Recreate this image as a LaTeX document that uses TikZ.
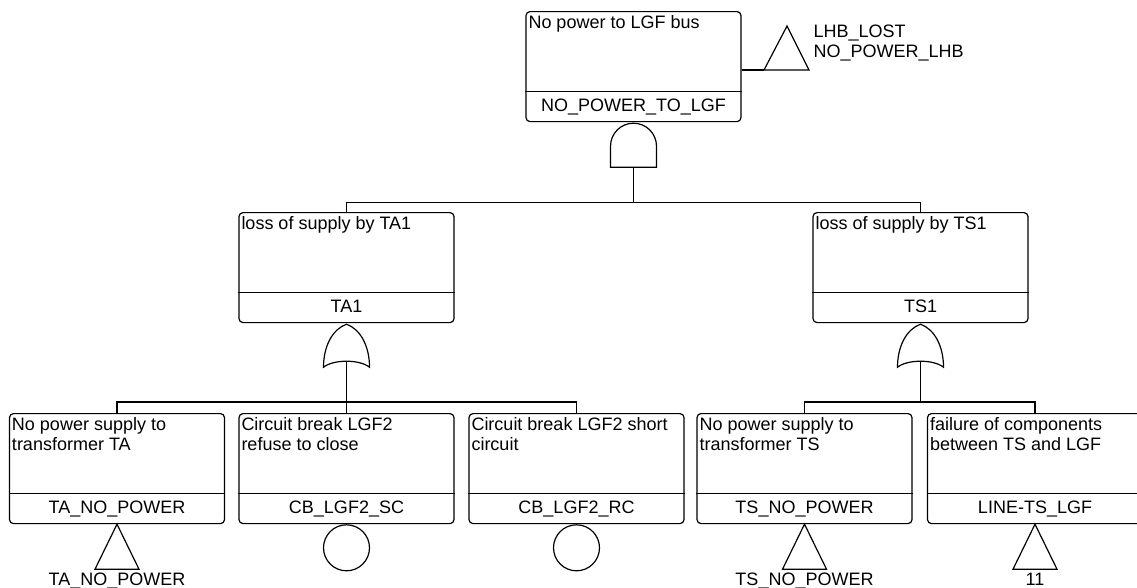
\documentclass[tikz,border=0pt]{standalone}
\usepackage{fontspec}
\setmainfont{Liberation Sans}
\tikzset{
  ev/.style={draw, rounded corners=4pt, minimum width=215pt, minimum height=110pt, inner sep=0pt, anchor=north},
  ttl/.style={anchor=north west, align=left, inner sep=0pt},
  eid/.style={anchor=base, inner sep=0pt},
  gate/.style={draw, fill=white},
}
\newcommand\evt[5]{%
  \node[ev] (#1) at (#2,#3) {};
  \draw ([yshift=31pt]#1.south west) -- ([yshift=31pt]#1.south east);
  \node[ttl] (#1-t) at ([shift={(2.5pt,-4pt)}]#1.north west) {#4};
  \node[eid] (#1-i) at ([yshift=11pt]#1.south) {#5};
}
\newcommand\orgate[2]{% name, box
  \path (#2.south) ++(0,1) coordinate (#1-top);
  \draw[gate] (#1-top) ++(-23,43) .. controls +(0,-21) and +(-14,5) .. (#1-top)
     .. controls +(14,5) and +(0,-21) .. ++(23,43)
     .. controls +(-10,-8) and +(10,-8) .. ++(-46,0) -- cycle;
  \path (#1-top) ++(0,37) coordinate (#1-out);
}
\newcommand\trin[2]{% name, box
  \path (#2.south) coordinate (#1-top);
  \draw (#1-top) -- ++(22,45) -- ++(-44,0) -- cycle;
}
\begin{document}
\begin{tikzpicture}[x=1pt,y=-1pt, line width=1.2pt, font=\fontsize{18}{20}\selectfont]
\useasboundingbox (0,0) rectangle (1137,587);

% top event
\evt{top}{633.5}{11}{No power to LGF bus}{NO\_POWER\_TO\_LGF}
% transfer-in triangle beside top
\coordinate (trl) at (764,70);
\draw (trl -| top.east) -- (trl);
\draw (trl) -- (787,26) -- (809,70) -- cycle;
\node[anchor=base west, inner sep=0pt] (lhb1) at (813,37) {LHB\_LOST};
\node[anchor=base west, inner sep=0pt] (lhb2) at (813,57) {NO\_POWER\_LHB};

% AND gate
\path (top.south) ++(0,1) coordinate (and-top);
\draw[gate] (and-top) ++(-23,44) -- ++(0,-21) arc[start angle=180, end angle=360, radius=23] -- ++(0,21) -- cycle;
\path (and-top) ++(0,44) coordinate (and-out);

% second level
\evt{ta1}{346.5}{212}{loss of supply by TA1}{TA1}
\evt{ts1}{920.5}{212}{loss of supply by TS1}{TS1}
\draw (and-out) -- ++(0,35) coordinate (j0);
\draw (ta1.north) |- (j0) -| (ts1.north);

% OR gates
\orgate{or1}{ta1}
\orgate{or2}{ts1}

% third level
\evt{ta}{117}{413}{No power supply to\\transformer TA}{TA\_NO\_POWER}
\evt{cbsc}{346.5}{413}{Circuit break LGF2\\refuse to close}{CB\_LGF2\_SC}
\evt{cbrc}{576.5}{413}{Circuit break LGF2 short\\circuit}{CB\_LGF2\_RC}
\evt{ts}{804.5}{413}{No power supply to\\transformer TS}{TS\_NO\_POWER}
\evt{line}{1035}{413}{failure of components\\between TS and LGF}{LINE-TS\_LGF}

\path (ta.north) ++(0,-11) coordinate (b1);
\draw (or1-out) -- (cbsc.north);
\path (or1-out |- b1) coordinate (j1);
\draw (ta.north) |- (j1) -| (cbrc.north);
\draw (or2-out) -- (or2-out |- b1) coordinate (j2);
\draw (ts.north) |- (j2) -| (line.north);

% basic events / transfers
\trin{tr1}{ta}
\node[anchor=base, inner sep=0pt] (tr1-l) at ([yshift=-61pt]ta.south) {TA\_NO\_POWER};
\node[draw, circle, minimum size=46pt, inner sep=0pt, anchor=north] (c1) at (cbsc.south) {};
\node[draw, circle, minimum size=46pt, inner sep=0pt, anchor=north] (c2) at (cbrc.south) {};
\trin{tr2}{ts}
\node[anchor=base, inner sep=0pt] (tr2-l) at ([yshift=-61pt]ts.south) {TS\_NO\_POWER};
\trin{tr3}{line}
\node[anchor=base, inner sep=0pt] (tr3-l) at ([yshift=-61pt]line.south) {11};
\end{tikzpicture}
\end{document}
